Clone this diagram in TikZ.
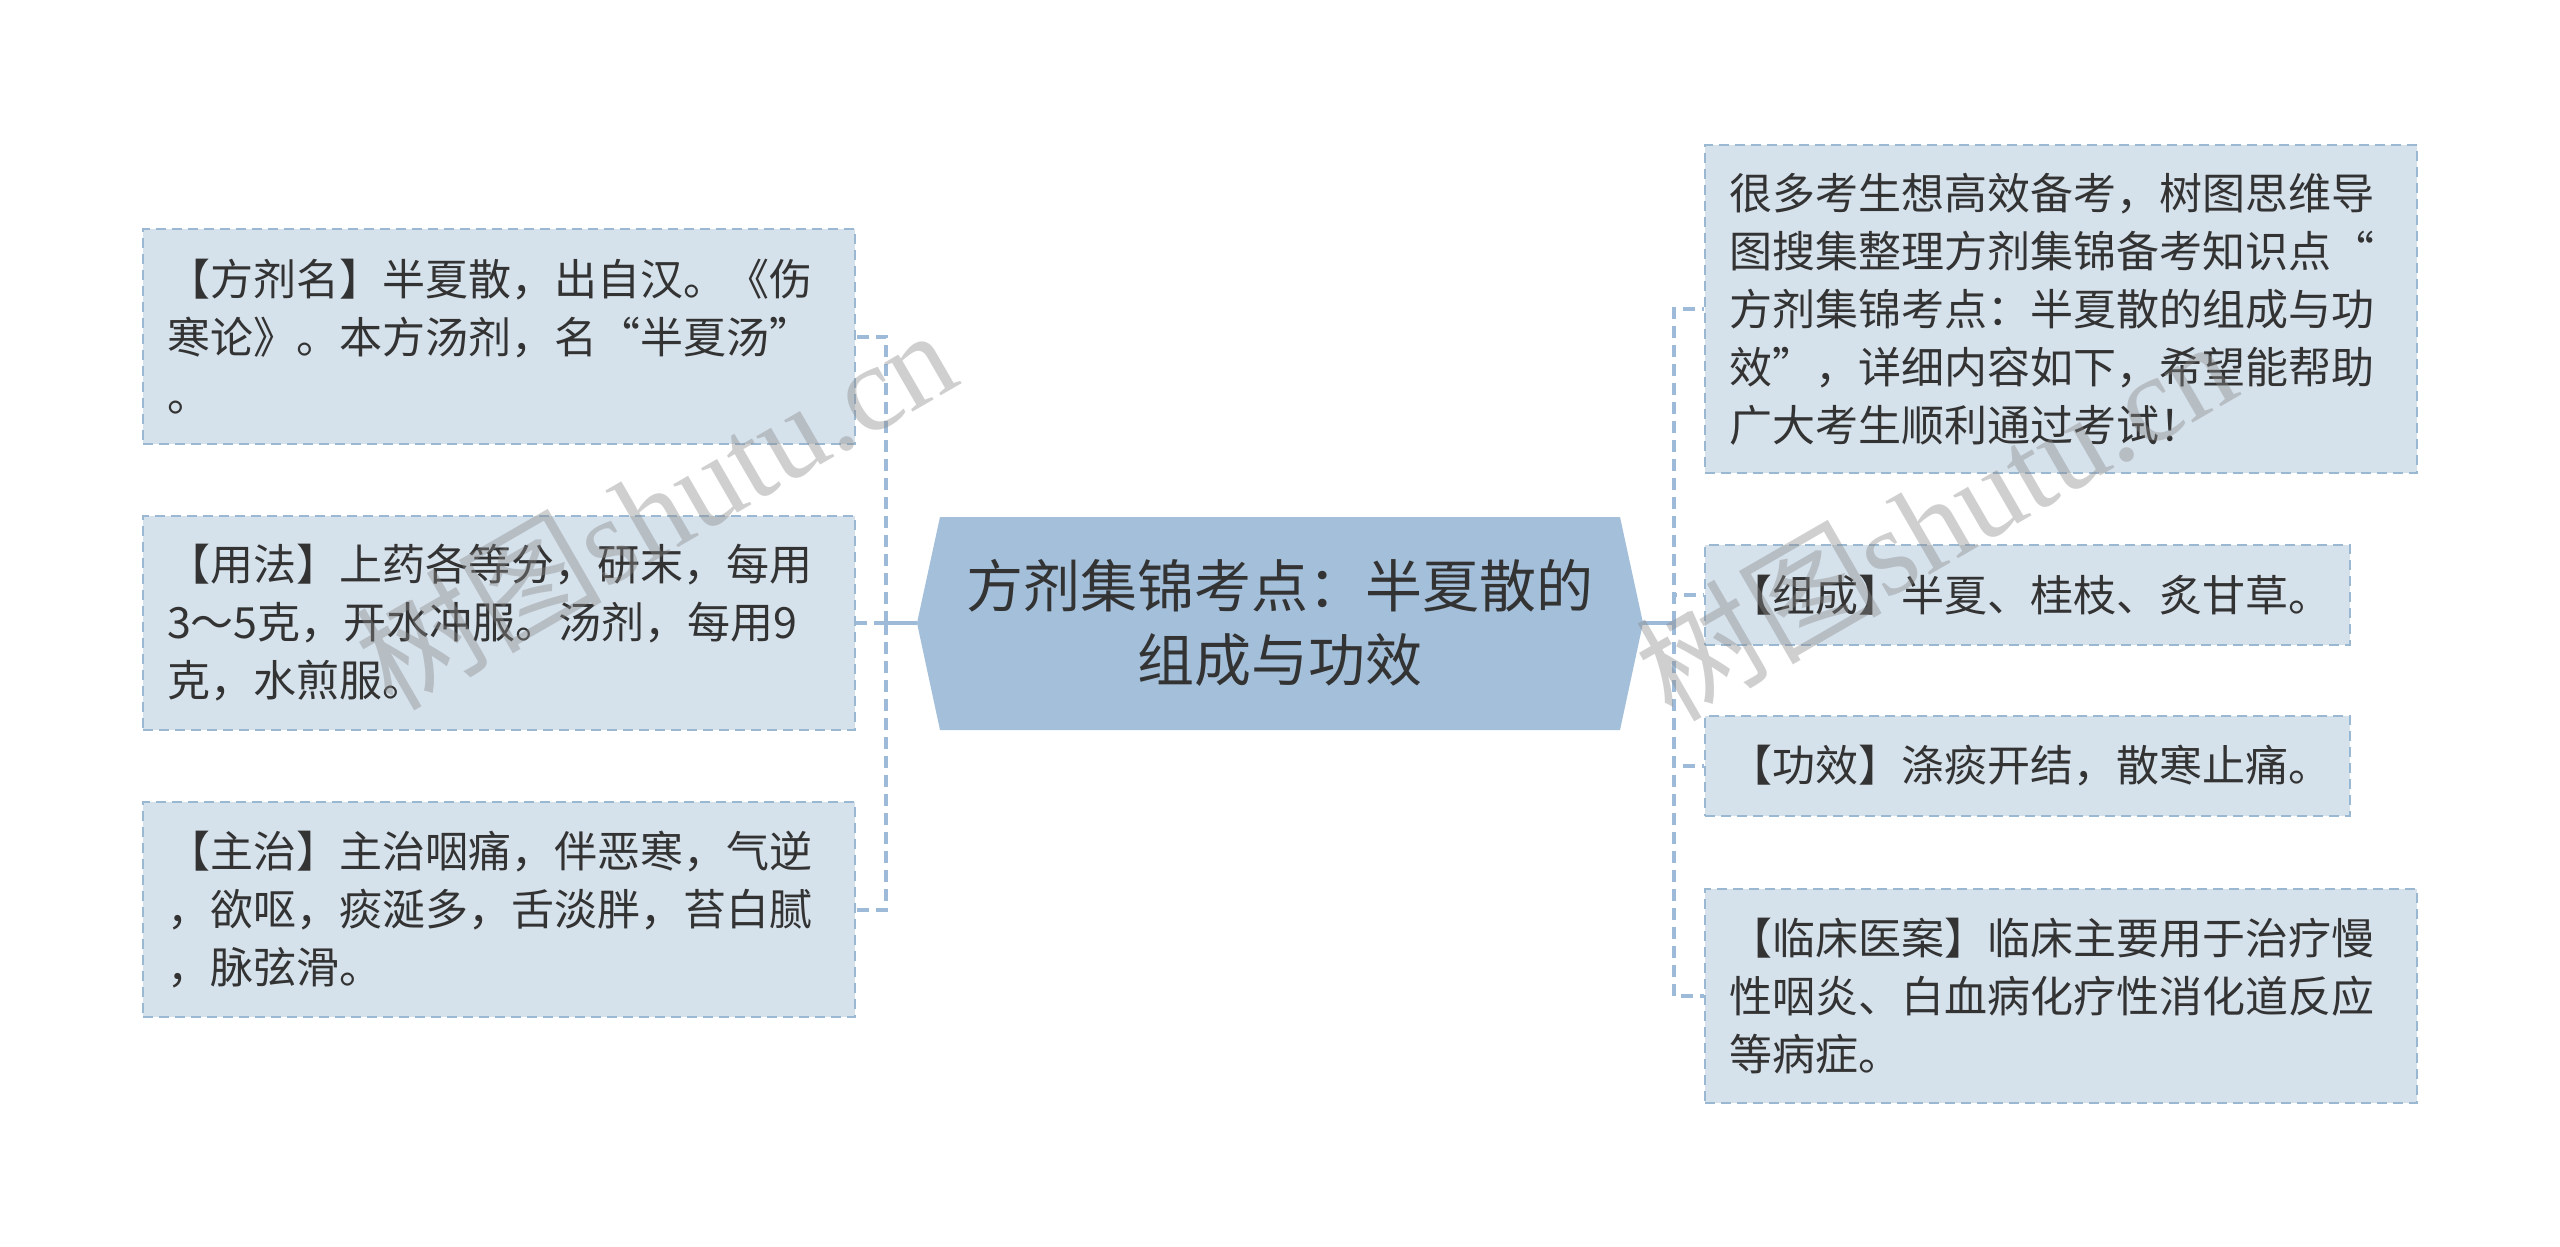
\documentclass[tikz,border=0pt]{standalone}
\usepackage{fontspec}
\setmainfont{Noto Sans CJK SC}
\newfontfamily\wmserif{Liberation Serif}
\newfontfamily\wmcjk{Noto Sans CJK SC}
\definecolor{boxfill}{HTML}{D5E1EB}
\definecolor{boxline}{HTML}{9BB8D3}
\definecolor{linkline}{HTML}{9DBBD8}
\definecolor{mainfill}{HTML}{A3BFDA}
\definecolor{txt}{HTML}{333333}
\definecolor{wmgray}{HTML}{888888}
\tikzset{
  leaf/.style={draw=boxline, fill=boxfill, line width=2pt, dash pattern=on 10pt off 6pt,
    inner xsep=0pt, inner ysep=0pt, align=left, text=txt,
    font=\fontsize{43}{58}\selectfont},
  link/.style={draw=linkline, line width=4pt, dash pattern=on 12pt off 7pt},
  trunk/.style={draw=linkline, line width=4pt},
  mainbox/.style={fill=mainfill},
  maintext/.style={align=center, text=txt, font=\fontsize{57}{74}\selectfont},
  watermark/.style={rotate=30, text=wmgray, opacity=0.4, font=\fontsize{123}{123}\selectfont},
}
\begin{document}
\begin{tikzpicture}[x=1pt,y=-1pt]
\useasboundingbox (0,0) rectangle (2560,1247);
\fill[white] (0,0) rectangle (2560,1247);

% central topic
\coordinate (cl) at (917,623);
\coordinate (cr) at (1643,623);
\fill[mainbox] (cl) -- (940,517) -- (1620,517) -- (cr) -- (1620,730) -- (940,730) -- cycle;
\node[maintext] (c) at (1280,623) {方剂集锦考点：半夏散的\\组成与功效};

% left leaves
\node[leaf, minimum width=712pt, minimum height=215pt, text width=664pt] (l1) at (499,336.5)
  {【方剂名】半夏散，出自汉。《伤\\寒论》。本方汤剂，名“半夏汤”\\。};
\node[leaf, minimum width=712pt, minimum height=214pt, text width=664pt] (l2) at (499,623)
  {【用法】上药各等分，研末，每用\\3～5克，开水冲服。汤剂，每用9\\克，水煎服。};
\node[leaf, minimum width=712pt, minimum height=215pt, text width=664pt] (l3) at (499,909.5)
  {【主治】主治咽痛，伴恶寒，气逆\\，欲呕，痰涎多，舌淡胖，苔白腻\\，脉弦滑。};

% right leaves
\node[leaf, minimum width=712pt, minimum height=328pt, text width=664pt] (r1) at (2061,309)
  {很多考生想高效备考，树图思维导\\图搜集整理方剂集锦备考知识点“\\方剂集锦考点：半夏散的组成与功\\效”，详细内容如下，希望能帮助\\广大考生顺利通过考试！};
\node[leaf, minimum width=645pt, minimum height=100pt, text width=597pt] (r2) at (2027.5,595)
  {【组成】半夏、桂枝、炙甘草。};
\node[leaf, minimum width=645pt, minimum height=100pt, text width=597pt] (r3) at (2027.5,766)
  {【功效】涤痰开结，散寒止痛。};
\node[leaf, minimum width=712pt, minimum height=214pt, text width=664pt] (r4) at (2061,996)
  {【临床医案】临床主要用于治疗慢\\性咽炎、白血病化疗性消化道反应\\等病症。};

% connectors left
\coordinate (lj) at (886,623);
\draw[trunk] (cl) -- (lj);
\draw[link] (lj) |- (l1.east);
\draw[link] (lj) -- (l2.east);
\draw[link] (lj) |- (l3.east);

% connectors right
\coordinate (rj) at (1674,623);
\draw[trunk] (cr) -- (rj);
\draw[link] (rj) |- (r1.west);
\draw[link] (rj) |- (r2.west);
\draw[link] (rj) |- (r3.west);
\draw[link] (rj) |- (r4.west);

% watermarks
\node[watermark] (wm1) at (655,507) {\wmcjk 树图{\wmserif shutu.cn}};
\node[watermark] (wm2) at (1935,518) {\wmcjk 树图{\wmserif shutu.cn}};
\end{tikzpicture}
\end{document}
